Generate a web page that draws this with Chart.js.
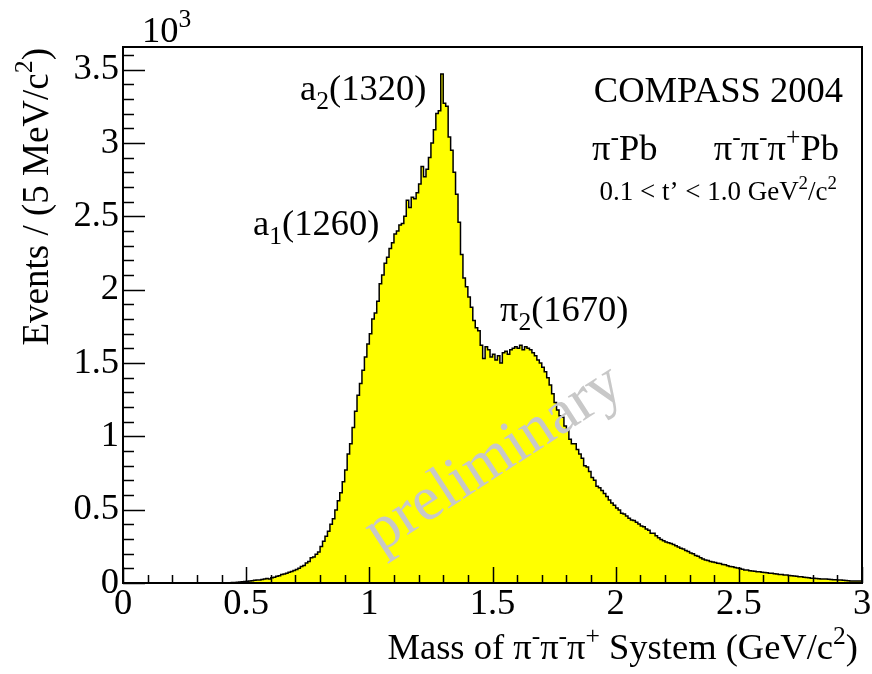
<!DOCTYPE html>
<html>
<head>
<meta charset="utf-8">
<script src="https://cdn.jsdelivr.net/npm/chart.js@4/dist/chart.umd.min.js"></script>
<style>
  body { margin: 0; background: #fff; }
  canvas { display: block; }
</style>
</head>
<body>
<canvas id="myChart" width="872" height="674"></canvas>
<script>
// histogram: events per bin (in 10^3), bins of 10 MeV starting at 0.40 GeV
const binLow = 0.40;
const binWidth = 0.01;
const counts = [
    0.000, 0.000, 0.001, 0.002, 0.002, 0.003, 0.004, 0.005, 0.006, 0.008,
    0.010, 0.012, 0.014, 0.016, 0.018, 0.021, 0.020, 0.024, 0.027, 0.031,
    0.028, 0.036, 0.040, 0.046, 0.050, 0.058, 0.062, 0.066, 0.074, 0.078,
    0.086, 0.092, 0.100, 0.112, 0.120, 0.136, 0.146, 0.172, 0.178, 0.196,
    0.212, 0.248, 0.285, 0.318, 0.352, 0.400, 0.438, 0.498, 0.560, 0.615,
    0.690, 0.770, 0.880, 0.950, 1.060, 1.170, 1.280, 1.360, 1.450, 1.540,
    1.630, 1.700, 1.800, 1.840, 1.920, 2.040, 2.100, 2.180, 2.220, 2.280,
    2.320, 2.380, 2.400, 2.440, 2.450, 2.500, 2.610, 2.560, 2.630, 2.620,
    2.660, 2.720, 2.840, 2.770, 2.820, 2.900, 3.000, 3.090, 3.200, 3.220,
    3.470, 3.270, 3.250, 3.040, 2.950, 2.800, 2.650, 2.460, 2.240, 2.080,
    2.020, 1.950, 1.880, 1.790, 1.740, 1.720, 1.620, 1.530, 1.610, 1.590,
    1.540, 1.560, 1.520, 1.550, 1.500, 1.570, 1.580, 1.560, 1.590, 1.600,
    1.610, 1.600, 1.620, 1.590, 1.610, 1.600, 1.590, 1.570, 1.550, 1.520,
    1.500, 1.470, 1.440, 1.400, 1.350, 1.290, 1.230, 1.180, 1.140, 1.130,
    1.070, 1.040, 0.980, 0.950, 0.950, 0.910, 0.880, 0.850, 0.800, 0.790,
    0.760, 0.720, 0.700, 0.660, 0.650, 0.630, 0.610, 0.590, 0.565, 0.545,
    0.530, 0.512, 0.498, 0.476, 0.470, 0.456, 0.442, 0.430, 0.426, 0.414,
    0.402, 0.388, 0.384, 0.368, 0.360, 0.340, 0.339, 0.322, 0.308, 0.296,
    0.288, 0.280, 0.274, 0.270, 0.262, 0.254, 0.246, 0.237, 0.232, 0.222,
    0.214, 0.204, 0.200, 0.188, 0.182, 0.172, 0.164, 0.157, 0.153, 0.146,
    0.144, 0.140, 0.134, 0.133, 0.126, 0.124, 0.118, 0.113, 0.111, 0.106,
    0.103, 0.098, 0.094, 0.089, 0.088, 0.084, 0.081, 0.080, 0.077, 0.076,
    0.074, 0.072, 0.070, 0.067, 0.066, 0.063, 0.062, 0.058, 0.058, 0.055,
    0.054, 0.051, 0.050, 0.047, 0.046, 0.043, 0.042, 0.039, 0.038, 0.035,
    0.032, 0.033, 0.030, 0.029, 0.028, 0.027, 0.027, 0.025, 0.024, 0.023,
    0.022, 0.020, 0.020, 0.018, 0.017, 0.015, 0.014, 0.014, 0.013, 0.013
];

const xMin = 0, xMax = 3;
const yMin = 0, yMax = 3.654;
const xTicks = [0, 0.5, 1, 1.5, 2, 2.5, 3];
const yTicks = [0, 0.5, 1, 1.5, 2, 2.5, 3, 3.5];
const xMinorStep = 0.1;
const yMinorStep = 0.1;

const FONT = "'Liberation Serif', 'Times New Roman', serif";
const SIZE = 36.5;

// draw text with ^superscript / _subscript pieces, ROOT style
function drawRich(ctx, parts, x, y, size, align) {
    const small = size * 0.7;
    let total = 0;
    const widths = parts.map(([t, k]) => {
        ctx.font = (k ? small : size) + 'px ' + FONT;
        const w = ctx.measureText(t).width;
        total += w;
        return w;
    });
    let cx = align === 'right' ? x - total : (align === 'center' ? x - total / 2 : x);
    ctx.textAlign = 'left';
    ctx.textBaseline = 'alphabetic';
    parts.forEach(([t, k], i) => {
        ctx.font = (k ? small : size) + 'px ' + FONT;
        let dy = 0;
        if (k === '^') dy = -size * 0.42;
        if (k === '_') dy = size * 0.26;
        ctx.fillText(t, cx, y + dy);
        cx += widths[i];
    });
}

const rootFrame = {
    id: 'rootFrame',
    afterDatasetsDraw(chart) {
        const {ctx, chartArea: a, scales: {x, y}} = chart;
        ctx.save();
        ctx.strokeStyle = '#000';
        ctx.lineWidth = 1.5;
        ctx.beginPath();
        // y ticks, inside the frame
        for (let v = yMin; v <= yMax + 1e-9; v += yMinorStep) {
            const major = yTicks.some(t => Math.abs(t - v) < 1e-6);
            const py = Math.round(y.getPixelForValue(v)) + 0.5;
            ctx.moveTo(a.left, py);
            ctx.lineTo(a.left + (major ? 22 : 11), py);
        }
        // x ticks
        for (let v = xMin; v <= xMax + 1e-9; v += xMinorStep) {
            const major = xTicks.some(t => Math.abs(t - v) < 1e-6);
            const px = Math.round(x.getPixelForValue(v)) + 0.5;
            ctx.moveTo(px, a.bottom);
            ctx.lineTo(px, a.bottom - (major ? 16 : 8));
        }
        ctx.stroke();
        ctx.lineWidth = 2;
        ctx.strokeRect(a.left, a.top, a.right - a.left, a.bottom - a.top);
        ctx.restore();
    },
    afterDraw(chart) {
        const ctx = chart.ctx;
        ctx.save();
        ctx.fillStyle = '#000';
        drawRich(ctx, [['10', ''], ['3', '^']], 142, 42, SIZE, 'left');
        drawRich(ctx, [['a', ''], ['2', '_'], ['(1320)', '']], 300, 100, SIZE, 'left');
        drawRich(ctx, [['a', ''], ['1', '_'], ['(1260)', '']], 253, 235, SIZE, 'left');
        drawRich(ctx, [['π', ''], ['2', '_'], ['(1670)', '']], 500, 321, SIZE, 'left');
        drawRich(ctx, [['COMPASS 2004', '']], 843, 102, SIZE, 'right');
        drawRich(ctx, [['π', ''], ['-', '^'], ['Pb', '']], 592, 160, SIZE, 'left');
        drawRich(ctx, [['π', ''], ['-', '^'], ['π', ''], ['-', '^'], ['π', ''], ['+', '^'], ['Pb', '']], 839, 160, SIZE, 'right');
        drawRich(ctx, [['0.1 < t’ < 1.0 GeV', ''], ['2', '^'], ['/c', ''], ['2', '^']], 837, 200, 27, 'right');
        drawRich(ctx, [['Mass of ', ''], ['π', ''], ['-', '^'], ['π', ''], ['-', '^'], ['π', ''], ['+', '^'],
            [' System (GeV/c', ''], ['2', '^'], [')', '']], 858, 659, SIZE, 'right');
        // y axis title, rotated
        ctx.save();
        ctx.translate(48, 48);
        ctx.rotate(-Math.PI / 2);
        drawRich(ctx, [['Events / (5 MeV/c', ''], ['2', '^'], [')', '']], 0, 0, 37, 'right');
        ctx.restore();
        // watermark
        ctx.save();
        ctx.translate(380, 553);
        ctx.rotate(-33 * Math.PI / 180);
        ctx.fillStyle = '#c8c8c8';
        drawRich(ctx, [['preliminary', '']], 0, 0, 63, 'left');
        ctx.restore();
        ctx.restore();
    }
};

const histData = counts.map((c, i) => ({x: binLow + i * binWidth, y: c}));
histData.push({x: xMax, y: counts[counts.length - 1]});

const ctx = document.getElementById('myChart').getContext('2d');
const myChart = new Chart(ctx, {
    type: 'line',
    data: {
        datasets: [{
            data: histData,
            stepped: 'after',
            fill: 'origin',
            backgroundColor: '#ffff00',
            borderColor: '#000000',
            borderWidth: 1.5,
            pointRadius: 0
        }]
    },
    options: {
        responsive: false,
        animation: false,
        layout: { padding: { top: 47, right: 10, left: 0, bottom: 0 } },
        plugins: { legend: { display: false }, tooltip: { enabled: false } },
        scales: {
            x: {
                type: 'linear',
                min: xMin,
                max: xMax,
                afterBuildTicks: s => { s.ticks = xTicks.map(v => ({value: v})); },
                afterFit: s => { s.height = 91; },
                grid: { display: false, drawTicks: false },
                border: { display: false },
                ticks: {
                    autoSkip: false,
                    maxRotation: 0,
                    padding: 0,
                    color: '#000',
                    font: { family: FONT, size: SIZE },
                    callback: v => String(v)
                }
            },
            y: {
                type: 'linear',
                min: yMin,
                max: yMax,
                afterBuildTicks: s => { s.ticks = yTicks.map(v => ({value: v})); },
                afterFit: s => { s.width = 123; },
                grid: { display: false, drawTicks: false },
                border: { display: false },
                ticks: {
                    autoSkip: false,
                    padding: 4,
                    color: '#000',
                    font: { family: FONT, size: SIZE },
                    callback: v => String(v)
                }
            }
        }
    },
    plugins: [rootFrame]
});
</script>
</body>
</html>
